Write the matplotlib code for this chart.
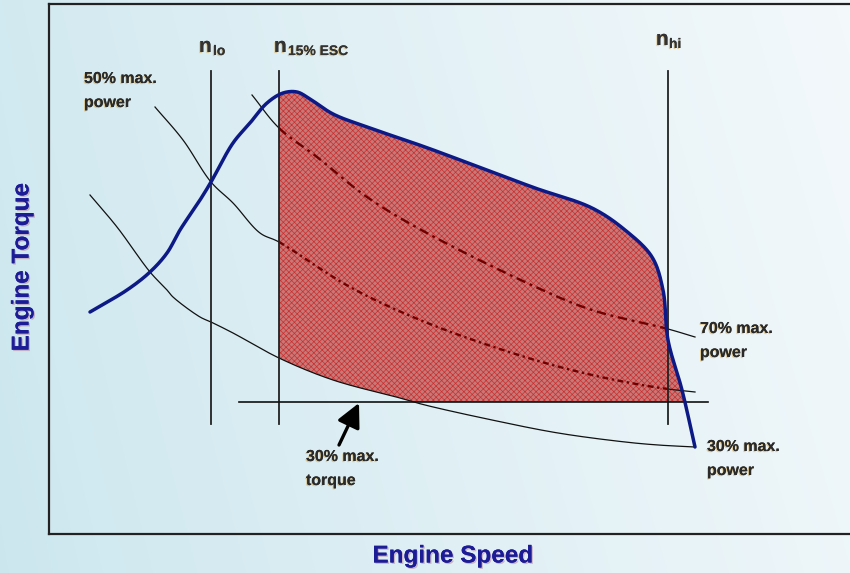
import matplotlib
matplotlib.use("Agg")
import numpy as np
import matplotlib.pyplot as plt
import matplotlib.patheffects as pe

plt.rcParams['font.family'] = ['Liberation Sans', 'DejaVu Sans']
plt.rcParams['hatch.linewidth'] = 0.5

# ---- data (arbitrary schematic units: speed, torque) ----
torque_speed = [90, 127, 150, 167, 180, 200, 211, 233, 250, 267, 283, 297, 310, 333, 367,
                425, 492, 535, 592, 625, 652, 663, 668, 682, 695]
torque_vals = [261, 283, 301, 320, 343, 373, 391, 430, 450, 470, 480, 481, 474, 459, 446,
               426, 401, 385, 365, 343, 316, 283, 233, 183, 126]

p30_speed = [90, 117, 150, 167, 173, 200, 211, 233, 279, 333, 400, 425, 492, 558, 625, 658, 695]
p30_vals = [378, 346, 301, 283, 276, 256, 251, 240, 215, 193, 175, 168, 153, 140, 131, 128, 126]

p50_speed = [155, 183, 211, 233, 260, 279, 350, 425, 525, 592, 642, 668, 695]
p50_vals = [466, 433, 391, 370, 340, 331, 286, 251, 216, 198, 188, 184, 181]

p70_speed = [252, 279, 317, 367, 425, 538, 592, 668, 695]
p70_vals = [478, 445, 416, 376, 341, 285, 263, 244, 236]

n_lo, n_esc, n_hi = 211, 279, 668
vline_range = (149, 502)
t30 = 171
t30_span = (239, 708)


def smooth(xv, yv, n=20):
    """Centripetal Catmull-Rom curve through the read points (drawing only)."""
    P = np.column_stack([xv, yv]).astype(float)
    P = np.vstack([2 * P[0] - P[1], P, 2 * P[-1] - P[-2]])
    out = []
    for i in range(1, len(P) - 2):
        p0, p1, p2, p3 = P[i - 1], P[i], P[i + 1], P[i + 2]
        def tj(ti, a, b):
            return ti + np.linalg.norm(b - a) ** 0.5
        t0 = 0.0
        t1 = tj(t0, p0, p1)
        t2 = tj(t1, p1, p2)
        t3 = tj(t2, p2, p3)
        t = np.linspace(t1, t2, n, endpoint=False)[:, None]
        A1 = (t1 - t) / (t1 - t0) * p0 + (t - t0) / (t1 - t0) * p1
        A2 = (t2 - t) / (t2 - t1) * p1 + (t - t1) / (t2 - t1) * p2
        A3 = (t3 - t) / (t3 - t2) * p2 + (t - t2) / (t3 - t2) * p3
        B1 = (t2 - t) / (t2 - t0) * A1 + (t - t0) / (t2 - t0) * A2
        B2 = (t3 - t) / (t3 - t1) * A2 + (t - t1) / (t3 - t1) * A3
        C = (t2 - t) / (t2 - t1) * B1 + (t - t1) / (t2 - t1) * B2
        out.append(C)
    out.append(P[-2][None, :])
    out = np.vstack(out)
    return out[:, 0], out[:, 1]


# ---- figure ----
W, H = 850, 573
fig = plt.figure(figsize=(W / 100, H / 100), dpi=100)

bg = fig.add_axes([0, 0, 1, 1])
bg.set_axis_off()
xx = np.linspace(0, 1, 400)[None, :]
yy = np.linspace(0, 1, 300)[:, None]
v = np.clip(0.85 * xx ** 0.9 + 0.15 * (1 - yy), 0, 1)
c0 = np.array([0.80, 0.905, 0.935])
c1 = np.array([0.955, 0.975, 0.985])
img = c0[None, None, :] * (1 - v[..., None]) + c1[None, None, :] * v[..., None]
bg.imshow(img, aspect='auto', extent=[0, 1, 0, 1], origin='upper')
bg.set_xlim(0, 1)
bg.set_ylim(0, 1)

x0, x1 = 49, 867
y0, y1 = 39, 569
ax = fig.add_axes([x0 / W, y0 / H, (x1 - x0) / W, (y1 - y0) / H])
ax.patch.set_alpha(0)
ax.set_xlim(x0, x1)
ax.set_ylim(y0, y1)
ax.set_xticks([])
ax.set_yticks([])
for s in ax.spines.values():
    s.set_linewidth(1.6)
    s.set_color('#222222')

tqx, tqy = smooth(torque_speed, torque_vals)
p30x, p30y = smooth(p30_speed, p30_vals)
p50x, p50y = smooth(p50_speed, p50_vals)
p70x, p70y = smooth(p70_speed, p70_vals)

# fill region
xs = np.linspace(n_esc, max(torque_speed), 2000)
order = np.argsort(tqx)
up = np.interp(xs, tqx[order], tqy[order])
o30 = np.argsort(p30x)
lo = np.maximum(np.interp(xs, p30x[o30], p30y[o30]), t30)
ax.fill_between(xs, lo, up, where=up >= lo, interpolate=True,
                facecolor='#c97878', edgecolor='none', zorder=1)
ax.fill_between(xs, lo, up, where=up >= lo, interpolate=True,
                facecolor='none', edgecolor='#c83030', hatch='xxxxxx', linewidth=0, zorder=1.1)


def power_curve(xv, yv, red_lo, red_hi, ls):
    m1 = xv <= red_lo
    m2 = (xv >= red_lo) & (xv <= red_hi)
    m3 = xv >= red_hi
    if m1.sum() > 1:
        ax.plot(xv[m1], yv[m1], color='#111111', lw=0.9, zorder=3)
    ax.plot(xv[m2], yv[m2], color='#6e0000', lw=1.7, ls=ls, zorder=3)
    if m3.sum() > 1:
        ax.plot(xv[m3], yv[m3], color='#111111', lw=0.9, zorder=3)


power_curve(p50x, p50y, n_esc, n_hi, (0, (2.5, 1.5, 1, 1.5)))
power_curve(p70x, p70y, n_esc, n_hi, (0, (4, 2, 1.2, 2)))
ax.plot(p30x, p30y, color='#111111', lw=0.9, zorder=3)

for xv in (n_lo, n_esc, n_hi):
    ax.plot([xv, xv], vline_range, color='#222222', lw=1.3, zorder=4)
ax.plot(t30_span, [t30, t30], color='#111111', lw=1.2, zorder=4)

ax.plot(tqx, tqy, color='#0d1a85', lw=2.5, zorder=5,
        solid_capstyle='round', solid_joinstyle='round')

ax.annotate('', xy=(359, 170), xytext=(339, 128),
            arrowprops=dict(arrowstyle='-|>,head_length=0.9,head_width=0.45', color='black',
                            lw=2.4, mutation_scale=16, shrinkA=0, shrinkB=0), zorder=6)

shadow = [pe.withSimplePatchShadow(offset=(-0.8, -0.8), shadow_rgbFace='#d9a441', alpha=0.5),
          pe.Normal()]
lab = dict(fontsize=11.5, fontweight='bold', color='#2a2a2a', ha='left', va='baseline',
           path_effects=shadow, zorder=7)
ax.text(84, 490, '50% max.', **lab)
ax.text(84, 466, 'power', **lab)
ax.text(700, 240, '70% max.', **lab)
ax.text(700, 216, 'power', **lab)
ax.text(707, 122, '30% max.', **lab)
ax.text(707, 98, 'power', **lab)
ax.text(306, 112, '30% max.', **lab)
ax.text(306, 88, 'torque', **lab)

nlab = dict(fontsize=15, fontweight='bold', color='#333333', ha='left', va='baseline',
            path_effects=shadow, zorder=7)
slab = dict(fontsize=10, fontweight='bold', color='#333333', ha='left', va='baseline',
            path_effects=shadow, zorder=7)
ax.text(199, 521, 'n', **nlab)
ax.text(213, 518, 'lo', **slab)
ax.text(274, 521, 'n', **nlab)
ax.text(288, 518, '15% ESC', **slab)
ax.text(656, 528, 'n', **nlab)
ax.text(669, 525, 'hi', **slab)

tshadow = [pe.withSimplePatchShadow(offset=(1, -1), shadow_rgbFace='#b07090', alpha=0.45),
           pe.Normal()]
fig.text(453 / W, (H - 556) / H, 'Engine Speed', fontsize=17.5, fontweight='bold',
         color='#1c1c96', ha='center', va='center', path_effects=tshadow)
fig.text(22 / W, (H - 267) / H, 'Engine Torque', fontsize=17.5, fontweight='bold',
         color='#1c1c96', ha='center', va='center', rotation=90, path_effects=tshadow)

fig.savefig('out.png', dpi=100)
